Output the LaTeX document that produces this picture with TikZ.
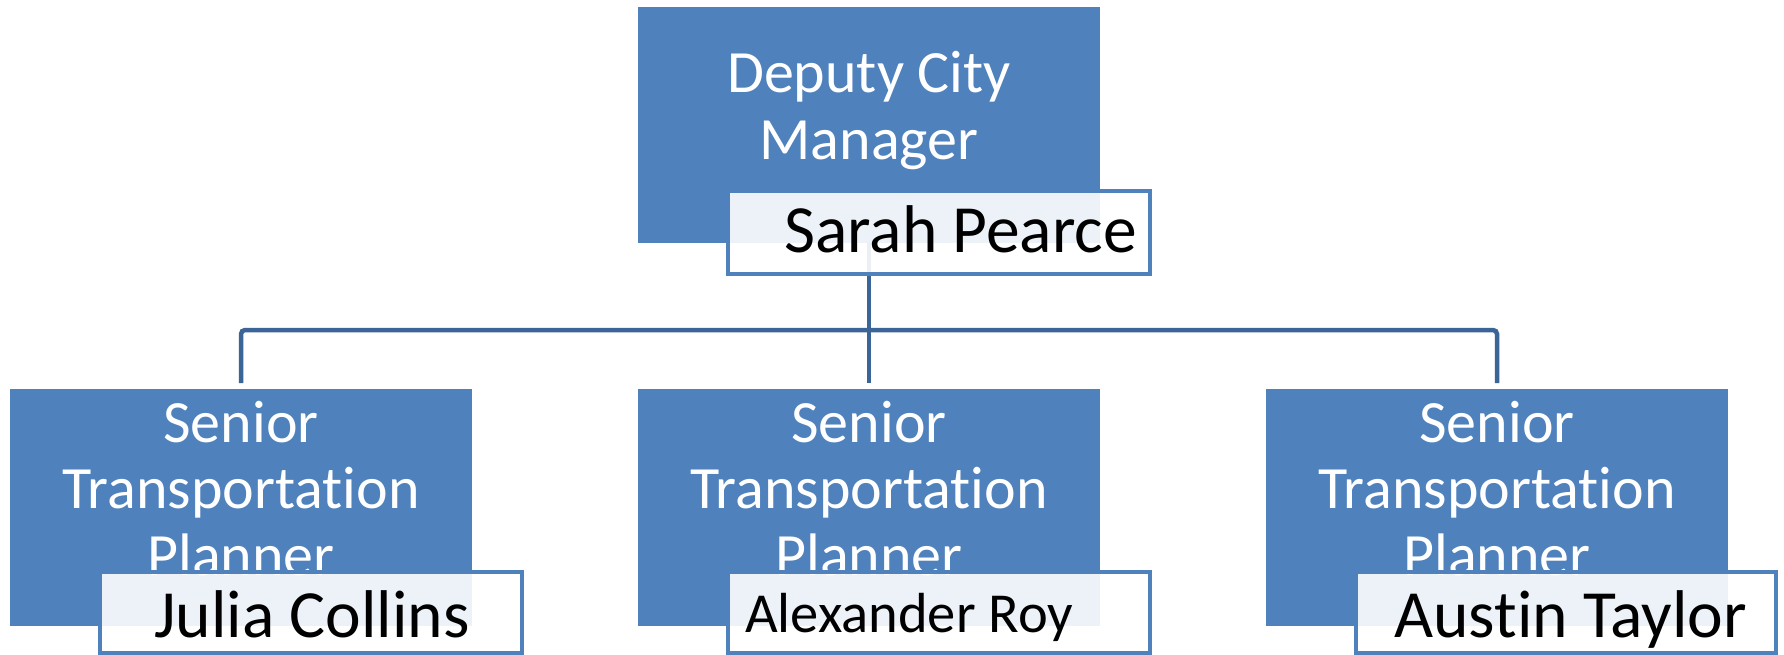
\documentclass[tikz,border=0pt]{standalone}
\usepackage{fontspec}
\setmainfont{Carlito}[Ligatures={NoCommon}]
\definecolor{boxblue}{HTML}{4F81BD}
\definecolor{linkblue}{HTML}{3C6597}
\tikzset{
  bluebox/.style={fill=boxblue, draw=none, inner sep=0pt, outer sep=0pt, minimum width=462pt, minimum height=237pt},
  namebox/.style={draw=boxblue, line width=4.5pt, fill=white, fill opacity=0.9, draw opacity=1, inner sep=0pt, outer sep=0pt, minimum width=422pt, minimum height=81pt},
  conn/.style={draw=linkblue, line width=4.5pt, rounded corners=4pt},
  ttl/.style={text=white, font=\fontsize{60}{67}\selectfont, anchor=base, inner sep=0pt},
  nm/.style={text=black, font=\fontsize{67.5}{72}\selectfont, anchor=base west, inner sep=0pt},
}
\begin{document}
\begin{tikzpicture}[x=1pt, y=-1pt]
  \useasboundingbox (0,0) rectangle (1784,655);
  \fill[white] (0,0) rectangle (1784,655);
  % blue boxes
  \node[bluebox, minimum height=236pt] (top) at (869,125) {};
  \node[bluebox] (b1) at (241,507.5) {};
  \node[bluebox] (b2) at (869,507.5) {};
  \node[bluebox] (b3) at (1497,507.5) {};
  % titles
  \node[ttl] (t1) at (869,93) {Deputy City};
  \node[ttl] (t2) at (869,160) {Manager};
  \foreach \n/\x in {1/241, 2/869, 3/1497} {
    \node[ttl] (s\n) at (\x,442) {Senior};
    \node[ttl] (r\n) at (\x,508) {Transportation};
    \node[ttl] (p\n) at (\x,575) {Planner};
  }
  % connectors
  \coordinate (j) at (869,330);
  \draw[conn] (top.south) -- ([yshift=6pt]b2.north);
  \draw[conn] ([yshift=6pt]b1.north) |- (j) -| ([yshift=6pt]b3.north);
  % name boxes
  \node[namebox, minimum height=83pt] (n0) at (939,232.5) {};
  \node[namebox] (n1) at (311,612.5) {};
  \node[namebox] (n2) at (939,612.5) {};
  \node[namebox, minimum width=420pt] (n3) at (1566,612.5) {};
  % names
  \node[nm] (m0) at (784,252) {Sarah Pearce};
  \node[nm] (m1) at (154,637) {Julia Collins};
  \node[nm, font=\fontsize{56.5}{62}\selectfont] (m2) at (745,632) {Alexander Roy};
  \node[nm] (m3) at (1394,637) {Austin Taylor};
\end{tikzpicture}
\end{document}
